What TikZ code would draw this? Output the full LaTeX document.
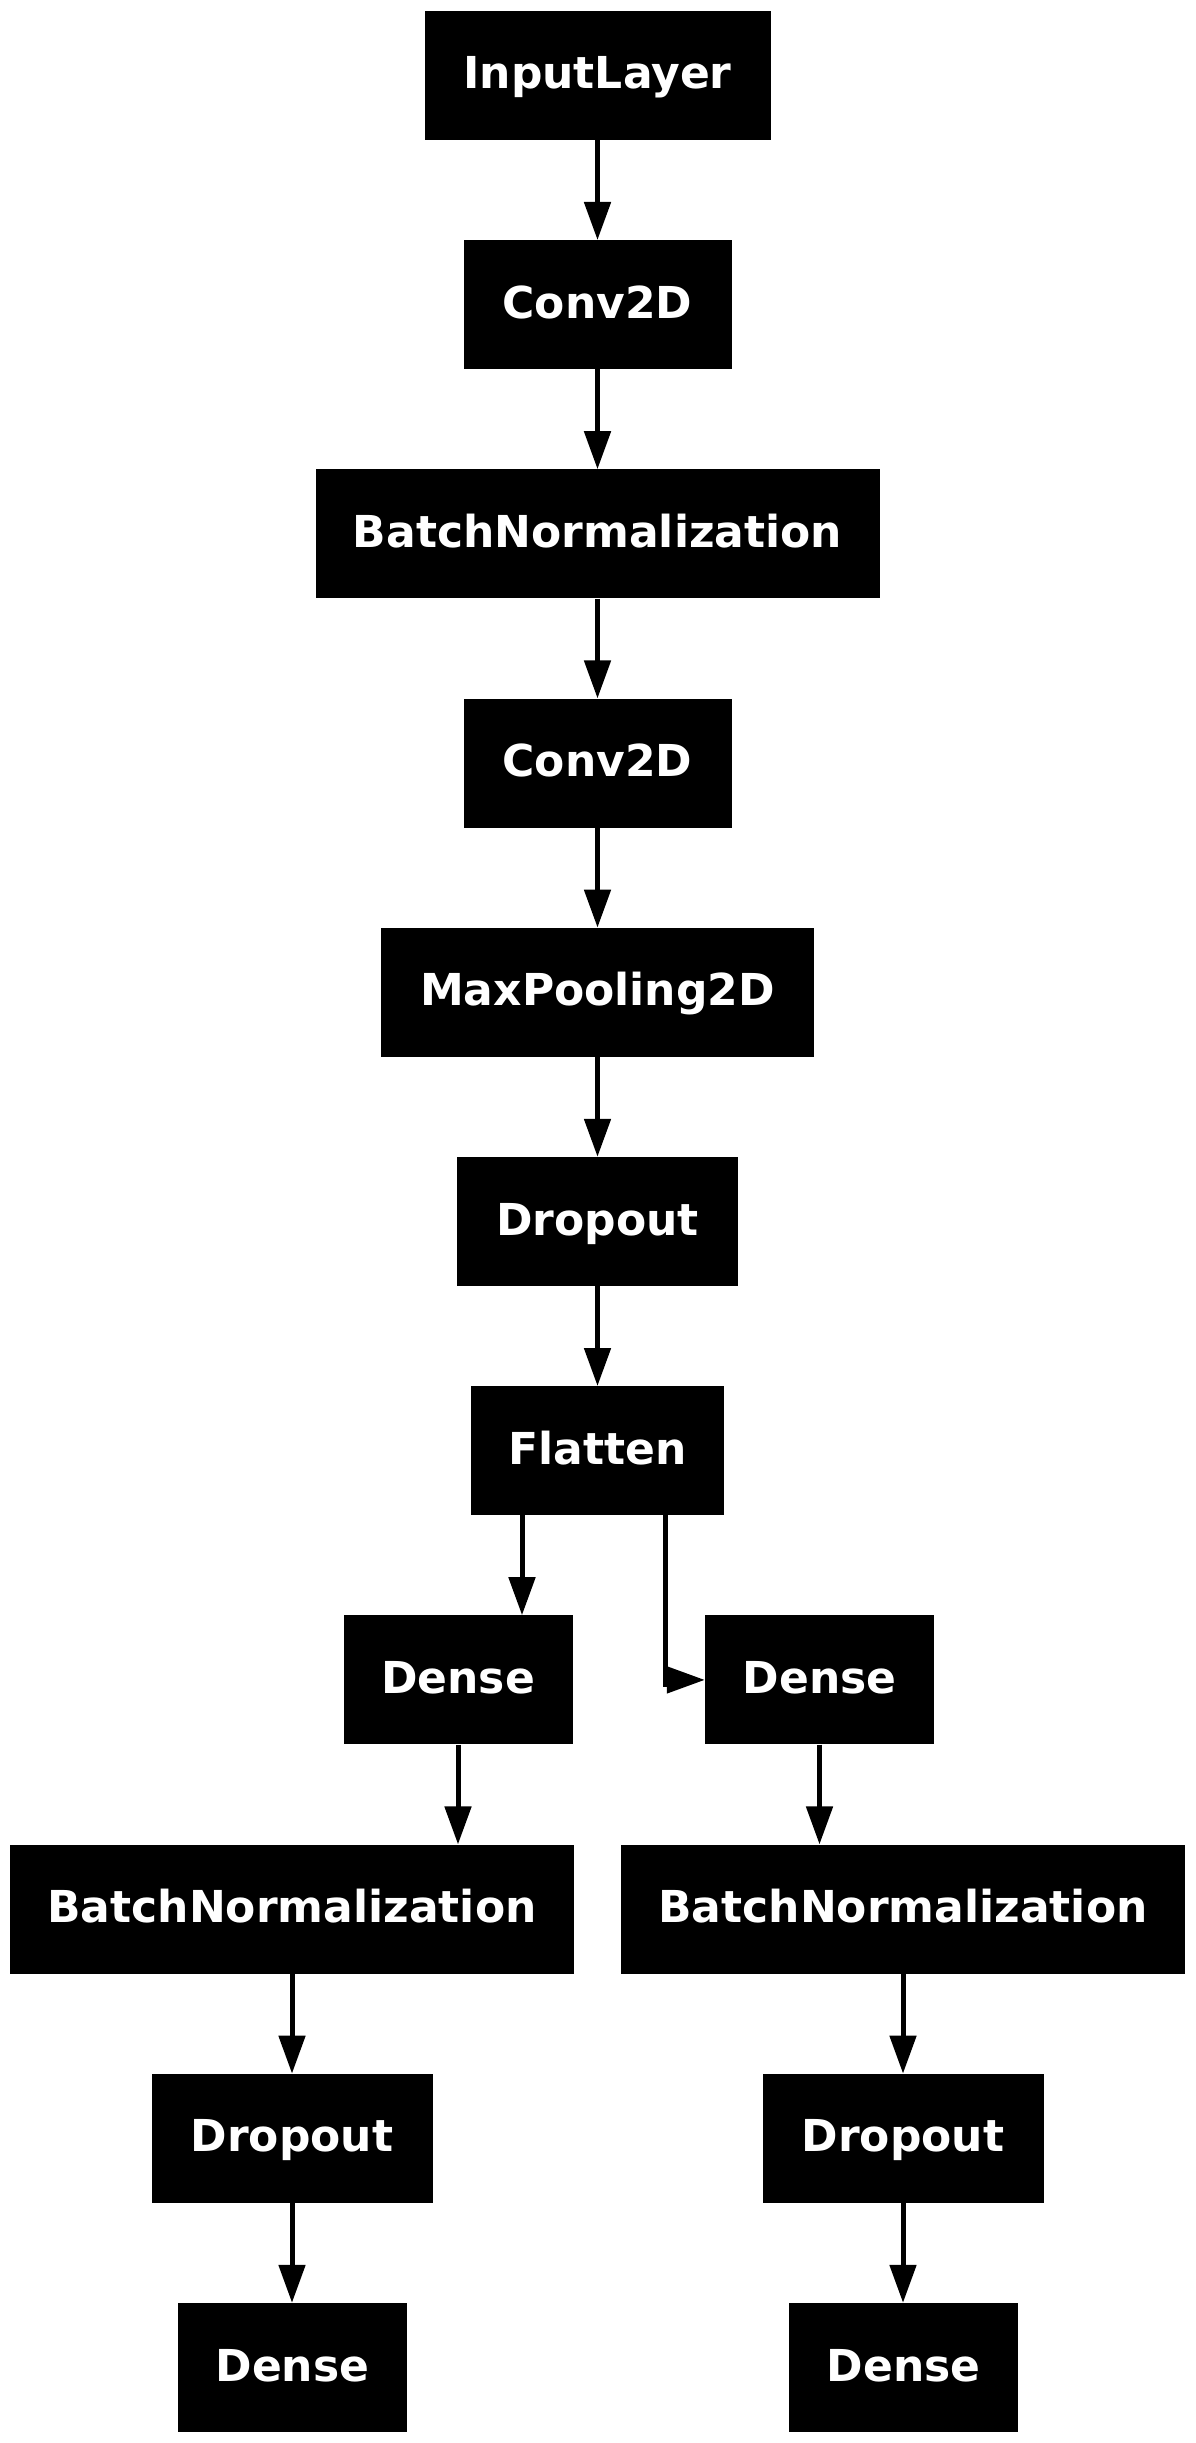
\documentclass[tikz,border=0pt]{standalone}
\usepackage{fontspec}
\newfontfamily\dvs{DejaVu Sans}
\usetikzlibrary{arrows.meta}
\tikzset{
  layer/.style={fill=black, draw=none, text=white, inner sep=0pt,
    minimum height=129pt, text height=45pt, text depth=18pt,
    font=\dvs\bfseries\fontsize{44}{50}\selectfont},
  conn/.style={line width=5pt},
  arr/.style={line width=5pt, -{Triangle[length=38pt,width=26pt]}}
}
\begin{document}
\begin{tikzpicture}[x=1pt,y=-1pt]
\useasboundingbox (0,0) rectangle (1195,2443);
\def\rowy#1{75.5+229.2*#1}
\node[layer, minimum width=346pt] (in) at (597.5,{\rowy{0}}) {InputLayer};
\node[layer, minimum width=268pt] (c1) at (597.5,{\rowy{1}}) {Conv2D};
\node[layer, minimum width=564pt] (bn1) at (597.5,{\rowy{2}}) {BatchNormalization};
\node[layer, minimum width=268pt] (c2) at (597.5,{\rowy{3}}) {Conv2D};
\node[layer, minimum width=433pt] (mp) at (597.5,{\rowy{4}}) {MaxPooling2D};
\node[layer, minimum width=281pt] (do1) at (597.5,{\rowy{5}}) {Dropout};
\node[layer, minimum width=253pt] (fl) at (597.5,{\rowy{6}}) {Flatten};
\node[layer, minimum width=229pt] (dL) at (458,{\rowy{7}}) {Dense};
\node[layer, minimum width=229pt] (dR) at (819.5,{\rowy{7}}) {Dense};
\node[layer, minimum width=564pt] (bnL) at (292,{\rowy{8}}) {BatchNormalization};
\node[layer, minimum width=564pt] (bnR) at (903,{\rowy{8}}) {BatchNormalization};
\node[layer, minimum width=281pt] (doL) at (292,{\rowy{9}}) {Dropout};
\node[layer, minimum width=281pt] (doR) at (903,{\rowy{9}}) {Dropout};
\node[layer, minimum width=229pt] (oL) at (292.5,{\rowy{10}}) {Dense};
\node[layer, minimum width=229pt] (oR) at (903.5,{\rowy{10}}) {Dense};

\draw[arr] (in.south) -- (c1.north);
\draw[arr] (c1.south) -- (bn1.north);
\draw[arr] (bn1.south) -- (c2.north);
\draw[arr] (c2.south) -- (mp.north);
\draw[arr] (mp.south) -- (do1.north);
\draw[arr] (do1.south) -- (fl.north);
\draw[arr] ([xshift=-75.5pt]fl.south) -- ([xshift=-75.5pt]fl.south |- dL.north);
\coordinate (kink) at (665,1684);
\coordinate (ka) at (667,{\rowy{7}});
\draw[conn] ([xshift=67.5pt]fl.south) -- (kink) -- ++(3,0);
\draw[arr] (ka) -- (dR.west);
\draw[arr] (dL.south) -- (dL.south |- bnL.north);
\draw[arr] (dR.south) -- (dR.south |- bnR.north);
\draw[arr] (bnL.south) -- (bnL.south |- doL.north);
\draw[arr] (bnR.south) -- (bnR.south |- doR.north);
\draw[arr] (doL.south) -- (doL.south |- oL.north);
\draw[arr] (doR.south) -- (doR.south |- oR.north);
\end{tikzpicture}
\end{document}
